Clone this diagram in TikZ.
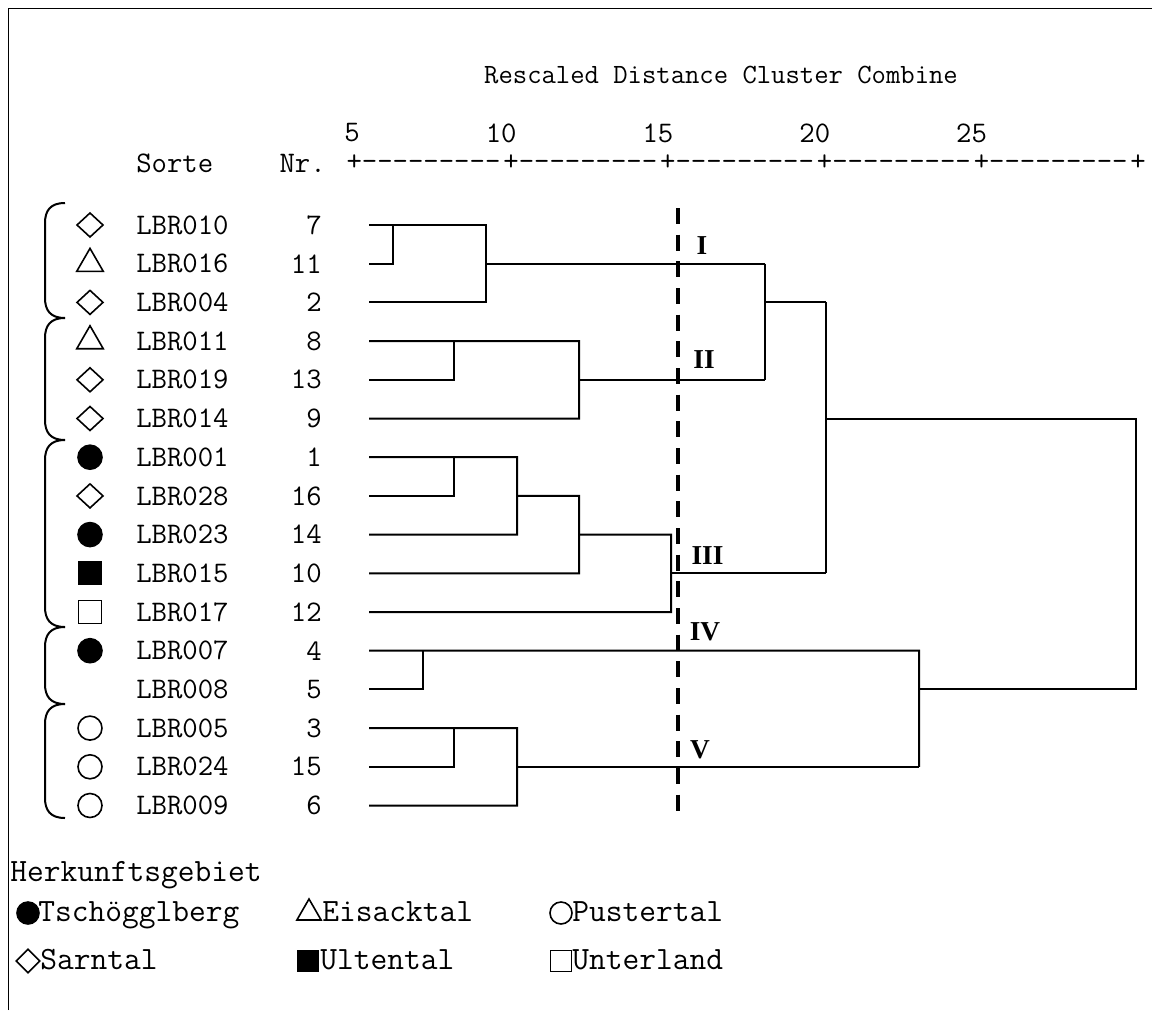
\documentclass[tikz,border=0pt]{standalone}
\usepackage{fontspec}
\newfontfamily\clusterfont{Liberation Serif}
\usetikzlibrary{shapes.geometric}

\tikzset{
  dendro/.style={line width=1.5pt},
  bracket/.style={line width=1.5pt},
  cutline/.style={line width=3pt, dash pattern=on 12pt off 8pt},
  rowtext/.style={font=\ttfamily\fontsize{22.4}{26}\selectfont, inner sep=0pt},
  titletext/.style={font=\ttfamily\fontsize{20.9}{24}\selectfont, inner sep=0pt},
  legtext/.style={font=\ttfamily\fontsize{24.4}{28}\selectfont, inner sep=0pt},
  clusterlabel/.style={font=\clusterfont\bfseries\fontsize{20.5}{24}\selectfont, inner sep=0pt},
  mkdia/.style={draw, diamond, minimum width=20pt, minimum height=18.5pt, inner sep=0pt, line width=1.2pt},
  mktri/.style={draw, regular polygon, regular polygon sides=3, minimum size=23pt, inner sep=0pt, line width=1.2pt},
  mkcirc/.style={draw, circle, minimum size=18pt, inner sep=0pt, line width=1.2pt},
  mkdisc/.style={mkcirc, fill=black},
  mksq/.style={draw, rectangle, minimum size=17pt, inner sep=0pt, line width=1.2pt},
  mkbox/.style={mksq, fill=black}
}

\begin{document}
\begin{tikzpicture}[x=0.75pt,y=0.75pt,yscale=-1,xscale=1]
\useasboundingbox (0,0) rectangle (1152,1010);

%Shape: Frame
\draw [line width=0.75pt] (8,1010) -- (8,8) -- (1152,8) ;

% Text Node
\node [titletext] (title) at (721,75) {Rescaled Distance Cluster Combine};
% Text Node
\node [rowtext,anchor=west] (sorte) at (136,163) {Sorte};
\node [rowtext,anchor=east] (nrhead) at (326,163) {Nr.};
% Axis: one segment per step of 5
\foreach \k in {0,...,4}
  \node [rowtext,anchor=west] (axis\k) at (346.3+156.8*\k,163) {+---------};
\node [rowtext] (axisend) at (1138,163) {+};
\foreach \v [count=\k from 0] in {5,10,15,20,25}
  \node [rowtext,anchor=east] (tick\v) at (360+156.8*\k,133) {\v};

% Rows: name, number, leaf
\foreach \nm/\nr [count=\i from 0] in {LBR010/7,LBR016/11,LBR004/2,LBR011/8,LBR019/13,LBR014/9,LBR001/1,LBR028/16,LBR023/14,LBR015/10,LBR017/12,LBR007/4,LBR008/5,LBR005/3,LBR024/15,LBR009/6}
{
  \node [rowtext,anchor=west] (name\i) at (136,225+38.7*\i) {\nm};
  \node [rowtext,anchor=east] (nr\i) at (322,225+38.7*\i) {\nr};
  \coordinate (leaf\i) at (369,225+38.7*\i);
}

% Symbols
\foreach \sy/\i in {mkdia/0,mktri/1,mkdia/2,mktri/3,mkdia/4,mkdia/5,mkdisc/6,mkdia/7,mkdisc/8,mkbox/9,mksq/10,mkdisc/11,mkcirc/13,mkcirc/14,mkcirc/15}
  \node [\sy] (sym\i) at (90,225+38.7*\i) {};

%Shape: Brackets
\foreach \t/\b in {203/318,318/440,440/627,627/704,704/818}
  \draw [bracket] (65,\t) .. controls (50,\t) and (45,\t+8) .. (45,\t+20) -- (45,\b-20) .. controls (45,\b-8) and (50,\b) .. (65,\b) ;

%Straight Lines: cluster I
\draw [dendro] (leaf1) -| (393,225) ;
\draw [dendro] (leaf0) -- (486,225) -- (486,302.4) -- (leaf2) ;
\draw [dendro] (486,263.7) -- (765,263.7) ;
%Straight Lines: cluster II
\draw [dendro] (leaf4) -| (454,341.1) ;
\draw [dendro] (leaf3) -- (579,341.1) -- (579,418.5) -- (leaf5) ;
\draw [dendro] (579,379.8) -- (765,379.8) ;
\draw [dendro] (765,263.7) -- (765,379.8) ;
\draw [dendro] (765,302.4) -- (826,302.4) ;
%Straight Lines: cluster III
\draw [dendro] (leaf7) -| (454,457.2) ;
\draw [dendro] (leaf6) -- (517,457.2) -- (517,534.6) -- (leaf8) ;
\draw [dendro] (517,495.9) -- (579,495.9) -- (579,573.3) -- (leaf9) ;
\draw [dendro] (579,534.6) -- (671,534.6) -- (671,612) -- (leaf10) ;
\draw [dendro] (671,573.3) -- (826,573.3) ;
\draw [dendro] (826,302.4) -- (826,573.3) ;
\draw [dendro] (826,418.5) -- (1136,418.5) -- (1136,689.4) -- (919,689.4) ;
%Straight Lines: cluster IV
\draw [dendro] (leaf12) -| (423,650.7) ;
\draw [dendro] (leaf11) -- (919,650.7) -- (919,766.8) ;
%Straight Lines: cluster V
\draw [dendro] (leaf14) -| (454,728.1) ;
\draw [dendro] (leaf13) -- (517,728.1) -- (517,805.5) -- (leaf15) ;
\draw [dendro] (517,766.8) -- (919,766.8) ;

%Straight Lines: cut
\draw [cutline] (678,208) -- (678,820) ;

% Text Node
\node [clusterlabel] (clI) at (702,246) {I};
\node [clusterlabel] (clII) at (704,360) {II};
\node [clusterlabel] (clIII) at (707.5,555.5) {III};
\node [clusterlabel] (clIV) at (705,632) {IV};
\node [clusterlabel] (clV) at (700,750) {V};

% Legend
\node [legtext,anchor=base west] (legtitle) at (10,881) {Herkunftsgebiet};
\node [mkdisc,minimum size=16.5pt] (legtsch) at (28,913) {};
\node [legtext,anchor=base west] (txttsch) at (38,921) {Tschögglberg};
\node [mktri,minimum size=21pt] (legeis) at (309,913) {};
\node [legtext,anchor=base west] (txteis) at (322,921) {Eisacktal};
\node [mkcirc,minimum size=16.5pt] (legpus) at (561,913) {};
\node [legtext,anchor=base west] (txtpus) at (572,921) {Pustertal};
\node [mkdia,minimum width=18pt,minimum height=18pt] (legsarn) at (28,961) {};
\node [legtext,anchor=base west] (txtsarn) at (40,969) {Sarntal};
\node [mkbox,minimum size=15.5pt] (legult) at (308,961) {};
\node [legtext,anchor=base west] (txtult) at (320,969) {Ultental};
\node [mksq,minimum size=15.5pt] (legunt) at (561,961) {};
\node [legtext,anchor=base west] (txtunt) at (572,969) {Unterland};
\end{tikzpicture}
\end{document}
